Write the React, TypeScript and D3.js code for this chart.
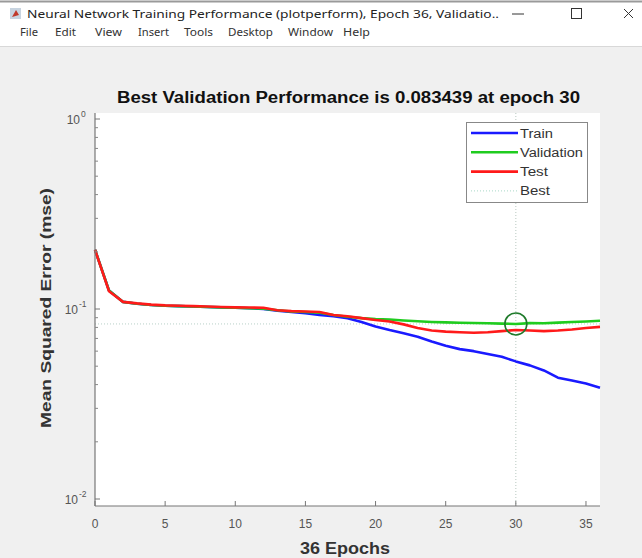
import React from "react";
import * as d3 from "d3";

const epochs = d3.range(0, 37);
const trainValues = [0.205, 0.125, 0.109, 0.1065, 0.105, 0.104, 0.1035, 0.103, 0.1025, 0.102, 0.1015, 0.101, 0.1, 0.098, 0.0965, 0.095, 0.093, 0.0915, 0.0895, 0.0855, 0.081, 0.0775, 0.0745, 0.0715, 0.0675, 0.064, 0.0615, 0.06, 0.058, 0.056, 0.053, 0.0505, 0.0475, 0.0435, 0.042, 0.0405, 0.0385];
const validationValues = [0.205, 0.125, 0.109, 0.1065, 0.105, 0.104, 0.1035, 0.103, 0.1025, 0.102, 0.1015, 0.101, 0.1005, 0.0985, 0.097, 0.0965, 0.0955, 0.093, 0.091, 0.0895, 0.0885, 0.088, 0.087, 0.0862, 0.0855, 0.085, 0.0846, 0.0844, 0.0842, 0.0838, 0.083439, 0.0843, 0.0841, 0.0848, 0.0855, 0.086, 0.0868];
const testValues = [0.205, 0.124, 0.109, 0.107, 0.1055, 0.1045, 0.104, 0.1035, 0.103, 0.1025, 0.102, 0.1018, 0.1015, 0.0985, 0.0975, 0.097, 0.0965, 0.093, 0.0915, 0.0895, 0.0875, 0.086, 0.083, 0.0795, 0.077, 0.076, 0.0755, 0.075, 0.0755, 0.0765, 0.0775, 0.077, 0.0765, 0.077, 0.078, 0.0795, 0.0805];
const bestEpoch = 30;
const bestValue = 0.083439;
const xTicks = [0, 5, 10, 15, 20, 25, 30, 35];
const yTickExps = [0, -1, -2];
const legendLabels = ["Train", "Validation", "Test", "Best"];
const legendWidths = [33, 63, 28, 30];
const menuItems = ["File", "Edit", "View", "Insert", "Tools", "Desktop", "Window", "Help"];
const menuX = [20, 55, 95, 138, 184, 228, 288, 343];
const menuW = [18, 21, 27, 31, 29, 45, 45, 27];
const windowTitle = "Neural Network Training Performance (plotperform), Epoch 36, Validatio..";
const chartTitle = "Best Validation Performance is 0.083439 at epoch 30";
const xLabel = "36 Epochs";
const yLabel = "Mean Squared Error  (mse)";

const W = 642, H = 558;
const L = 95, R = 600, T = 113, B = 506;

export default function App() {
  const x = d3.scaleLinear().domain([0, 36]).range([L, R]);
  // 10^0 at y=119, 10^-2 at y=499
  const k = (499 - 119) / 2;
  const y = d3.scaleLog().domain([Math.pow(10, -2 - (B - 499) / k), Math.pow(10, (119 - T) / k)]).range([B, T]);
  const line = (vals: number[]) =>
    d3.line<number>().x((_, i) => x(epochs[i])).y((v) => y(v))(vals) || "";

  const minor: number[] = [];
  [0.01, 0.1].forEach((d) => { for (let m = 2; m <= 9; m++) minor.push(d * m); });

  const tickFont = "'Liberation Sans', Arial, sans-serif";
  const uiFont = "'Noto Sans', 'Open Sans', sans-serif";
  const colors = ["#1a1aff", "#1fcc1f", "#ff1a1a"];
  const series = [trainValues, validationValues, testValues];

  const lx = 466, ly = 122, lw = 121, lh = 80;

  return (
    <svg width={W} height={H} style={{ position: "absolute", left: 0, top: 0 }} xmlns="http://www.w3.org/2000/svg">
      <rect x={0} y={0} width={W} height={H} fill="#f0f0f0" />
      {/* window chrome */}
      <rect x={0} y={0} width={W} height={47} fill="#ffffff" />
      <line x1={0} x2={W} y1={1.5} y2={1.5} stroke="#9a9a9a" strokeWidth={2} />
      <rect x={10} y={8} width={11} height={11} fill="#c8d4e0" />
      <path d="M12 17 L16 10 L19 15 Z" fill="#c0392b" />
      <text x={27} y={18} fontFamily={uiFont} fontSize={11.5} fill="#222" textLength={472} lengthAdjust="spacingAndGlyphs">{windowTitle}</text>
      <line x1={512} x2={524} y1={14} y2={14} stroke="#333" strokeWidth={1} />
      <rect x={571.5} y={8.5} width={10} height={10} fill="none" stroke="#333" strokeWidth={1} />
      <path d="M624 9 L633 18 M633 9 L624 18" stroke="#333" strokeWidth={1} />
      {menuItems.map((m, i) => (
        <text key={m} x={menuX[i]} y={36} fontFamily={uiFont} fontSize={11} fill="#333" textLength={menuW[i]} lengthAdjust="spacingAndGlyphs">{m}</text>
      ))}
      <line x1={0} x2={W} y1={46.5} y2={46.5} stroke="#d8d8d8" />

      {/* plot area */}
      <rect x={L} y={T} width={R - L} height={B - T} fill="#ffffff" />
      {/* best lines */}
      <line x1={x(bestEpoch)} x2={x(bestEpoch)} y1={T} y2={B} stroke="#b8c8c0" strokeWidth={1} strokeDasharray="1,2" />
      <line x1={L} x2={R} y1={y(bestValue)} y2={y(bestValue)} stroke="#b8d0c8" strokeWidth={1} strokeDasharray="1,2" />
      {series.map((s, i) => (
        <path key={i} d={line(s)} fill="none" stroke={colors[i]} strokeWidth={2.6} strokeLinejoin="round" />
      ))}
      <circle cx={x(bestEpoch)} cy={y(bestValue)} r={11} fill="none" stroke="#1e7a2a" strokeWidth={1.6} />

      {/* axes */}
      <line x1={L} x2={L} y1={T} y2={B} stroke="#777" strokeWidth={1.2} />
      <line x1={L} x2={R} y1={B} y2={B} stroke="#777" strokeWidth={1.2} />
      {xTicks.map((t) => (
        <g key={t}>
          <line x1={x(t)} x2={x(t)} y1={B} y2={B - 5} stroke="#777" />
          <text x={x(t)} y={528} textAnchor="middle" fontFamily={tickFont} fontSize={12} fill="#555">{t}</text>
        </g>
      ))}
      {minor.map((m) => (
        <line key={m} x1={L} x2={L + 3} y1={y(m)} y2={y(m)} stroke="#888" />
      ))}
      {yTickExps.map((e) => (
        <g key={e}>
          <line x1={L} x2={L + 5} y1={y(Math.pow(10, e))} y2={y(Math.pow(10, e))} stroke="#777" />
          <text x={e === 0 ? 80 : 78} y={y(Math.pow(10, e)) + 5} textAnchor="end" fontFamily={tickFont} fontSize={12} fill="#555">10</text>
          <text x={e === 0 ? 81 : 79} y={y(Math.pow(10, e)) - 2} textAnchor="start" fontFamily={tickFont} fontSize={8.5} fill="#555">{e}</text>
        </g>
      ))}

      {/* legend */}
      <rect x={lx + 0.5} y={ly + 0.5} width={lw} height={lh} fill="#ffffff" stroke="#888" />
      {legendLabels.map((lab, i) => {
        const yy = ly + 11 + i * 19.3;
        return (
          <g key={lab}>
            {i < 3 ? (
              <line x1={lx + 5} x2={lx + 52} y1={yy} y2={yy} stroke={colors[i]} strokeWidth={2.6} />
            ) : (
              <line x1={lx + 5} x2={lx + 52} y1={yy} y2={yy} stroke="#a8d8c8" strokeWidth={1} strokeDasharray="1,2" />
            )}
            <text x={lx + 54} y={yy + 4.5} fontFamily={tickFont} fontSize={12.5} fill="#333" textLength={legendWidths[i]} lengthAdjust="spacingAndGlyphs">{lab}</text>
          </g>
        );
      })}

      {/* titles */}
      <text x={117} y={103} fontFamily={tickFont} fontWeight="bold" fontSize={16} fill="#111" textLength={463} lengthAdjust="spacingAndGlyphs">{chartTitle}</text>
      <text x={300} y={554} fontFamily={tickFont} fontWeight="bold" fontSize={16} fill="#333" textLength={90} lengthAdjust="spacingAndGlyphs">{xLabel}</text>
      <text transform={`translate(51,428) rotate(-90)`} fontFamily={tickFont} fontWeight="bold" fontSize={15.5} fill="#333" textLength={240} lengthAdjust="spacingAndGlyphs">{yLabel}</text>
    </svg>
  );
}
